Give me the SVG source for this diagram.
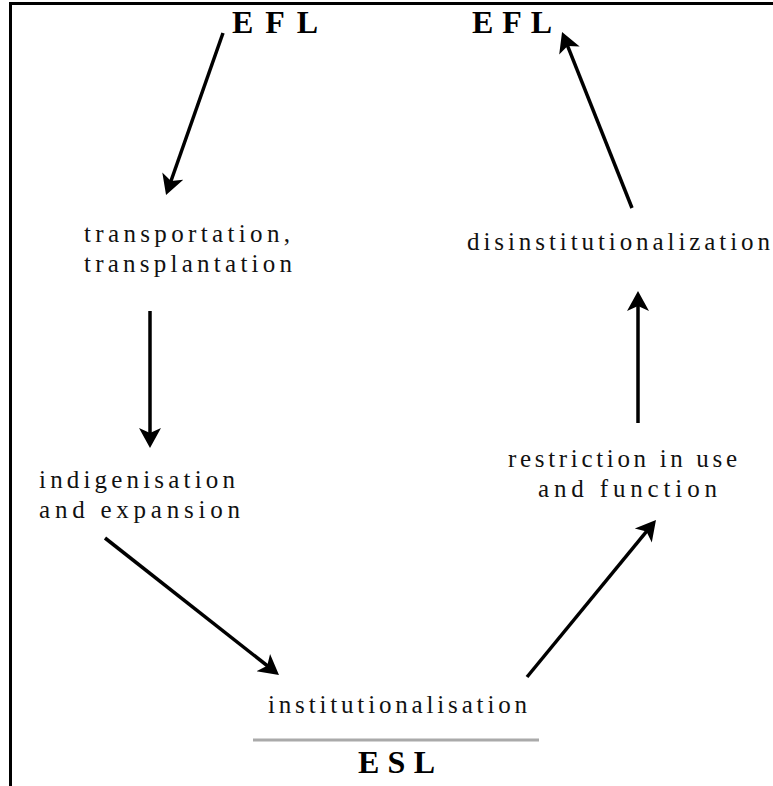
<svg xmlns="http://www.w3.org/2000/svg" width="773" height="786" viewBox="0 0 773 786">
<style>
.lbl{font-family:"Liberation Serif","Times New Roman",serif;font-size:25px;fill:#111}
.big{font-family:"Liberation Serif","Times New Roman",serif;font-size:32px;font-weight:bold;fill:#000}
.arr{stroke:#000;stroke-width:3.5;fill:none;marker-end:url(#ah)}
</style>
<defs>
<marker id="ah" markerUnits="userSpaceOnUse" markerWidth="22" markerHeight="22" viewBox="0 0 20 22" refX="12" refY="11" orient="auto">
<path d="M0,0 L20,11 L0,22 L5,11 z" fill="#000"/>
</marker>
</defs>
<rect width="773" height="786" fill="#fff"/>
<g id="frame" stroke="#000" stroke-width="3" fill="none">
<line x1="9" y1="3.5" x2="773" y2="3.5"/>
<line x1="10.5" y1="2" x2="10.5" y2="786"/>
</g>
<g id="efl-left"><text class="big" x="232" y="33" textLength="86" lengthAdjust="spacing">EFL</text></g>
<g id="efl-right"><text class="big" x="472" y="33" textLength="80" lengthAdjust="spacing">EFL</text></g>
<g id="transportation">
<text class="lbl" x="84" y="242" textLength="206" lengthAdjust="spacing">transportation,</text>
<text class="lbl" x="84" y="272" textLength="208" lengthAdjust="spacing">transplantation</text>
</g>
<g id="disinstitutionalization"><text class="lbl" x="467" y="250" textLength="303" lengthAdjust="spacing">disinstitutionalization</text></g>
<g id="indigenisation">
<text class="lbl" x="39" y="488" textLength="196" lengthAdjust="spacing">indigenisation</text>
<text class="lbl" x="39" y="518" textLength="201" lengthAdjust="spacing">and expansion</text>
</g>
<g id="restriction">
<text class="lbl" x="508" y="467" textLength="229" lengthAdjust="spacing">restriction in use</text>
<text class="lbl" x="538" y="497" textLength="179" lengthAdjust="spacing">and function</text>
</g>
<g id="institutionalisation">
<text class="lbl" x="268" y="713" textLength="259" lengthAdjust="spacing">institutionalisation</text>
<line x1="253" y1="740" x2="539" y2="740" stroke="#aaa" stroke-width="3"/>
</g>
<g id="esl"><text class="big" x="358" y="773" textLength="77" lengthAdjust="spacing">ESL</text></g>
<g id="connectors">
<line class="arr" x1="223" y1="33" x2="168.7" y2="187.5"/>
<line class="arr" x1="150" y1="311" x2="150" y2="440"/>
<line class="arr" x1="105" y1="538" x2="272.7" y2="670"/>
<line class="arr" x1="527" y1="677" x2="650.9" y2="526.2"/>
<line class="arr" x1="638" y1="423" x2="638" y2="299"/>
<line class="arr" x1="632" y1="208" x2="565" y2="39.4"/>
</g>
</svg>
